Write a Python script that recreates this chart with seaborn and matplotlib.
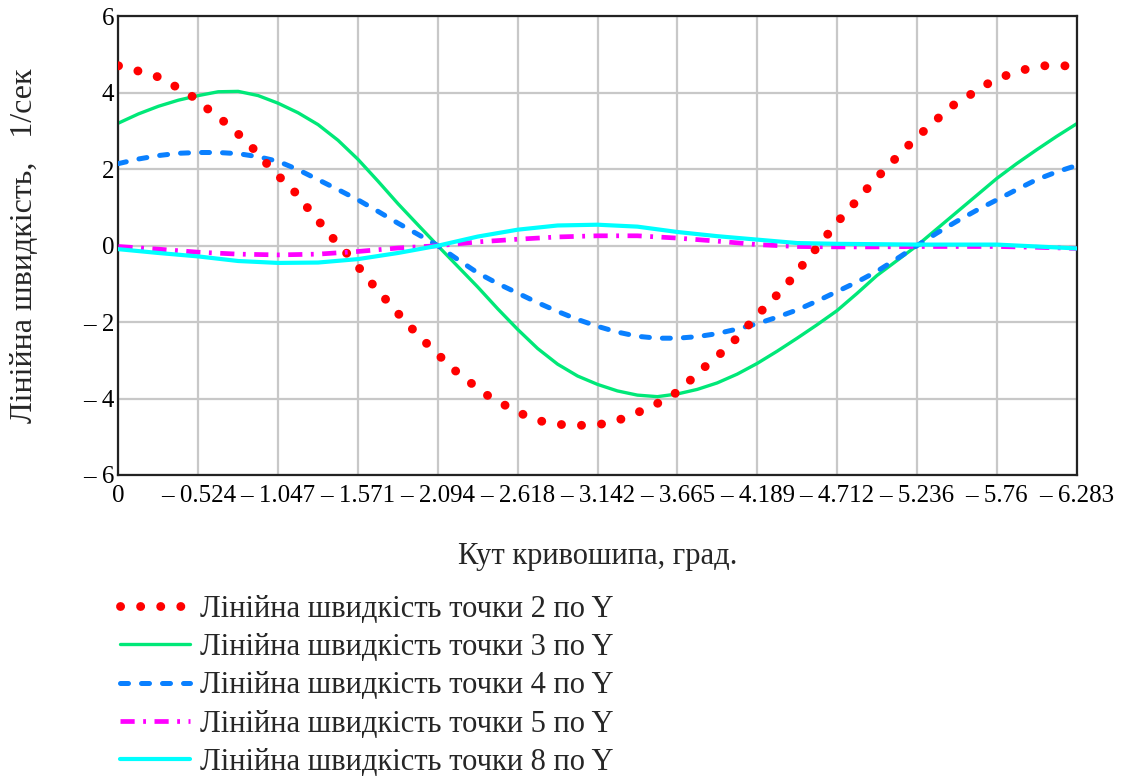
import numpy as np
import pandas as pd
import matplotlib
matplotlib.use("Agg")
import matplotlib.pyplot as plt
import seaborn as sns

# ---------------- data ----------------
t_fine = [0.0, 0.131, 0.262, 0.393, 0.524, 0.654, 0.785, 0.916, 1.047, 1.178, 1.309,
          1.440, 1.571, 1.702, 1.833, 1.963, 2.094, 2.225, 2.356, 2.487, 2.618, 2.749,
          2.880, 3.011, 3.142, 3.272, 3.403, 3.534, 3.665, 3.796, 3.927, 4.058, 4.189,
          4.320, 4.451, 4.581, 4.712, 4.843, 4.974, 5.105, 5.236, 5.367, 5.498, 5.629,
          5.760, 5.891, 6.021, 6.152, 6.283]

v3 = [3.21, 3.45, 3.65, 3.81, 3.93, 4.03, 4.04, 3.93, 3.73, 3.48, 3.17,
      2.76, 2.26, 1.69, 1.10, 0.55, 0.0, -0.54, -1.08, -1.65, -2.19, -2.69,
      -3.10, -3.41, -3.63, -3.80, -3.91, -3.95, -3.88, -3.76, -3.59, -3.36, -3.08,
      -2.76, -2.42, -2.07, -1.70, -1.25, -0.78, -0.39, 0.0, 0.44, 0.88, 1.32,
      1.76, 2.15, 2.51, 2.86, 3.19]

v4 = [2.15, 2.27, 2.36, 2.42, 2.44, 2.44, 2.41, 2.33, 2.21, 1.99, 1.73,
      1.47, 1.20, 0.90, 0.59, 0.30, 0.0, -0.36, -0.71, -0.99, -1.24, -1.49,
      -1.72, -1.93, -2.11, -2.26, -2.37, -2.42, -2.42, -2.38, -2.30, -2.18, -2.04,
      -1.87, -1.68, -1.45, -1.20, -0.95, -0.67, -0.34, 0.0, 0.33, 0.64, 0.93,
      1.20, 1.47, 1.73, 1.93, 2.10]

t_grid = [0.0, 0.262, 0.524, 0.785, 1.047, 1.309, 1.571, 1.833, 2.094, 2.356, 2.618,
          2.880, 3.142, 3.403, 3.665, 3.927, 4.189, 4.451, 4.712, 4.974, 5.236,
          5.498, 5.760, 6.021, 6.283]

v5 = [-0.02, -0.09, -0.17, -0.22, -0.24, -0.22, -0.15, -0.06, 0.0, 0.10, 0.17, 0.23, 0.26,
      0.26, 0.20, 0.12, 0.03, -0.02, -0.03, -0.03, -0.02, -0.02, -0.02, -0.04, -0.07]

v8 = [-0.09, -0.19, -0.28, -0.40, -0.45, -0.44, -0.35, -0.19, 0.0, 0.24, 0.42, 0.53, 0.55,
      0.50, 0.36, 0.25, 0.16, 0.07, 0.05, 0.04, 0.03, 0.03, 0.03, -0.02, -0.07]

t2 = [0.0, 0.141, 0.268, 0.382, 0.491, 0.579, 0.677, 0.769, 0.902, 1.016, 1.093, 1.185,
      1.257, 1.355, 1.447, 1.530, 1.609, 1.696, 1.785, 1.873, 1.970, 2.110, 2.186, 2.298,
      2.396, 2.499, 2.597, 2.696, 2.823, 2.961, 3.098, 3.225, 3.323, 3.437, 3.549, 3.652,
      3.753, 3.837, 3.940, 4.012, 4.078, 4.150, 4.253, 4.354, 4.439, 4.526, 4.616, 4.690,
      4.778, 4.867, 4.953, 5.067, 5.128, 5.202, 5.281, 5.379, 5.482, 5.581, 5.705, 5.817,
      5.942, 6.053, 6.196, 6.283]
v2 = [4.71, 4.56, 4.41, 4.15, 3.89, 3.60, 3.30, 2.99, 2.47, 1.95, 1.66, 1.29,
      0.90, 0.45, 0.0, -0.33, -0.74, -1.15, -1.55, -1.95, -2.36, -2.90, -3.20, -3.55,
      -3.86, -4.10, -4.30, -4.50, -4.65, -4.70, -4.70, -4.64, -4.50, -4.31, -4.10, -3.86,
      -3.51, -3.20, -2.85, -2.60, -2.31, -2.00, -1.55, -1.15, -0.75, -0.30, 0.11, 0.51,
      0.90, 1.29, 1.70, 2.15, 2.44, 2.70, 3.00, 3.35, 3.70, 3.94, 4.25, 4.45,
      4.61, 4.71, 4.71, 4.70]

labels = ["Лінійна швидкість точки 2 по Y",
          "Лінійна швидкість точки 3 по Y",
          "Лінійна швидкість точки 4 по Y",
          "Лінійна швидкість точки 5 по Y",
          "Лінійна швидкість точки 8 по Y"]

x_ticks = [0, 0.524, 1.047, 1.571, 2.094, 2.618, 3.142, 3.665, 4.189, 4.712, 5.236, 5.76, 6.283]
x_tick_labels = ["0", "– 0.524", "– 1.047", "– 1.571", "– 2.094", "– 2.618", "– 3.142",
                 "– 3.665", "– 4.189", "– 4.712", "– 5.236", "– 5.76", "– 6.283"]
y_ticks = [-6, -4, -2, 0, 2, 4, 6]
y_tick_labels = ["– 6", "– 4", "– 2", "0", "2", "4", "6"]

x_label = "Кут кривошипа, град."
y_label = "Лінійна швидкість,   1/сек"

# ---------------- style ----------------
sns.set_style("white")
plt.rcParams["font.family"] = ["Liberation Serif", "DejaVu Serif"]
plt.rcParams["font.size"] = 18

fig = plt.figure(figsize=(11.25, 7.78), dpi=100)
ax = fig.add_axes([0.1053, 0.3895, 0.8516, 0.5893])

df_fine = pd.DataFrame({"t": t_fine, "v3": v3, "v4": v4})
df_grid = pd.DataFrame({"t": t_grid, "v5": v5, "v8": v8})
df2 = pd.DataFrame({"t": t2, "v2": v2})

sns.lineplot(data=df_fine, x="t", y="v3", ax=ax, color="#00E878", lw=2.4,
             label=labels[1], zorder=2, sort=False)
sns.lineplot(data=df_fine, x="t", y="v4", ax=ax, color="#0A80FF", lw=3.6,
             linestyle=(0, (1.6, 2.6)), dash_capstyle="round", label=labels[2],
             zorder=3, sort=False)
sns.lineplot(data=df2, x="t", y="v2", ax=ax, color="#FF0000", lw=6.4,
             linestyle=(0, (0.01, 2.25)), dash_capstyle="round", label=labels[0],
             zorder=4, sort=False)
sns.lineplot(data=df_grid, x="t", y="v5", ax=ax, color="#FF00FF", lw=3.4,
             linestyle=(0, (3.0, 1.8, 0.6, 1.8)), label=labels[3], zorder=5, sort=False)
sns.lineplot(data=df_grid, x="t", y="v8", ax=ax, color="#00FFFF", lw=3.0,
             label=labels[4], zorder=6, sort=False)

ax.set_xlim(0, 6.283)
ax.set_ylim(-6, 6)
ax.set_xticks(x_ticks)
ax.set_xticklabels(x_tick_labels)
ax.set_yticks(y_ticks)
ax.set_yticklabels(y_tick_labels)
ax.tick_params(axis="both", length=0, labelsize=18, colors="#000000")
ax.tick_params(axis="x", pad=7)
ax.tick_params(axis="y", pad=3)
ax.grid(True, color="#C8C8C8", lw=1.6)
for s in ax.spines.values():
    s.set_visible(True)
    s.set_color("#222222")
    s.set_linewidth(1.6)

ax.set_xlabel(x_label, fontsize=22)
ax.set_ylabel(y_label, fontsize=23)
ax.xaxis.set_label_coords(0.5, -0.147)
ax.yaxis.set_label_coords(-0.083, 0.5)

handles, labs = ax.get_legend_handles_labels()
order = [labs.index(l) for l in labels]
ax.legend([handles[i] for i in order], [labs[i] for i in order],
          loc="upper left", bbox_to_anchor=(120 / 1125, 1 - 595 / 778),
          bbox_transform=fig.transFigure, frameon=False, fontsize=22,
          handlelength=2.3, handletextpad=0.33, labelspacing=0.30,
          borderpad=0, borderaxespad=0)

fig.savefig("out.png", dpi=100)
